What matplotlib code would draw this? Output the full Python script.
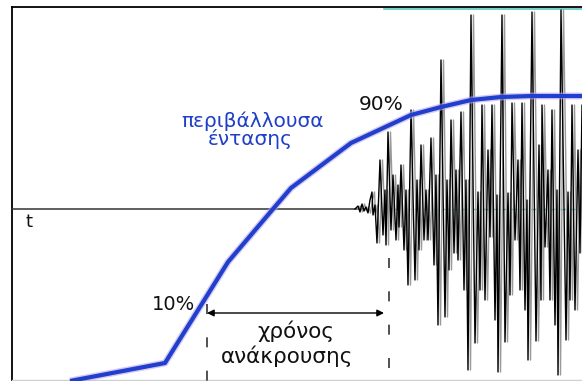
import numpy as np
import matplotlib.pyplot as plt

# schematic coordinates (x to the right, y downwards like the picture)
env_x = [70, 165, 228, 273, 291, 351, 411, 441, 471, 501, 531, 582]
env_y = [381, 363, 262, 209, 188, 143, 115, 107, 100, 97, 96, 96]

# wave: small wiggles on the axis, then growing oscillation
wave_x = [355, 358, 360, 362, 364, 366, 368, 370, 372, 373, 375,
          377, 380, 383, 385, 386, 388, 391, 393, 396, 398, 399, 401,
          404, 406, 408, 411, 415, 417, 419, 421, 424, 426, 428, 431,
          434, 436, 438, 441, 445, 447, 449, 451, 454, 456, 458, 461,
          464, 466,
          468, 471, 475, 478, 480, 482, 485, 488, 490, 492, 495, 497,
          498, 502, 505, 508, 510, 512, 515, 518, 520, 522, 525, 527,
          528, 532, 536, 539, 541, 542, 545, 548, 550, 552, 555, 557,
          558, 561, 566, 568, 570, 572, 575, 578, 580, 582, 585]
wave_y = [209, 206, 212, 204, 211, 207, 213, 200, 192, 215, 205,
          243, 160, 235, 190, 245, 132, 230, 175, 240, 185, 227, 165,
          250, 190, 285, 110, 280, 180, 250, 145, 240, 190, 240, 138,
          265, 175, 325, 60, 317, 180, 270, 120, 253, 170, 260, 112,
          290, 180,
          370, 15, 343, 192, 290, 105, 300, 150, 237, 105, 320, 195,
          372, 15, 342, 193, 295, 103, 240, 160, 290, 103, 310, 200,
          360, 12, 341, 145, 300, 105, 247, 170, 300, 110, 325, 190,
          375, 10, 340, 192, 300, 105, 310, 150, 253, 105, 330]

axis_y = 209
t10_x = 207
t90_x = 389
arrow_y = 313

fig = plt.figure(figsize=(5.82, 3.81), dpi=100)
ax = fig.add_axes([0, 0, 1, 1])
ax.set_xlim(0, 582)
ax.set_ylim(381, 0)
ax.axis('off')

# frame
ax.plot([12, 12], [7, 381], color='black', lw=1.3)
ax.plot([12, 582], [7, 7], color='black', lw=1.3)
ax.plot([384, 582], [9, 9], color='#5ec9c2', lw=1.2)
ax.plot([12, 582], [380, 380], color='#d0d0d0', lw=1)

# time axis
ax.plot([12, 365], [axis_y, axis_y], color='#333333', lw=1.1)
ax.plot([385, 582], [axis_y, axis_y], color='#5ec9c2', lw=1, ls=(0, (4, 3)))

# waveform, doubled stroke
wx = np.array(wave_x)
ax.plot(wx + 2.5, wave_y, color='#9a9a9a', lw=1.0)
ax.plot(wx, wave_y, color='black', lw=1.0)

# envelope
ax.plot(env_x, env_y, color='#b9a6f0', lw=5.0, alpha=0.6, solid_capstyle='butt')
ax.plot(env_x, env_y, color='#1f3fcc', lw=3.0, solid_capstyle='butt')

# markers for 10% and 90%
ax.plot([t10_x, t10_x], [304, 381], color='#333333', lw=1.2, ls=(0, (6, 14)))
ax.plot([t90_x, t90_x], [258, 381], color='#333333', lw=1.2, ls=(0, (6, 14)))
ax.annotate('', xy=(t10_x, arrow_y), xytext=(t90_x - 5, arrow_y),
            arrowprops=dict(arrowstyle='<|-|>', color='black', lw=1.0,
                            mutation_scale=10, shrinkA=0, shrinkB=0))

ax.text(381, 104, '90%', fontsize=14.5, ha='center', va='center', color='#111111')
ax.text(173, 304, '10%', fontsize=14, ha='center', va='center', color='#111111')
ax.text(29, 222, 't', fontsize=13, ha='center', va='center', color='#111111')

ax.text(252, 121, 'περιβάλλουσα', fontsize=14.5, ha='center', va='center', color='#1e40c8')
ax.text(250, 139, 'έντασης', fontsize=14.5, ha='center', va='center', color='#1e40c8')
ax.text(296, 331, 'χρόνος', fontsize=15.5, ha='center', va='center', color='#111111')
ax.text(287, 356, 'ανάκρουσης', fontsize=15.5, ha='center', va='center', color='#111111')

fig.savefig('out.png', dpi=100)
